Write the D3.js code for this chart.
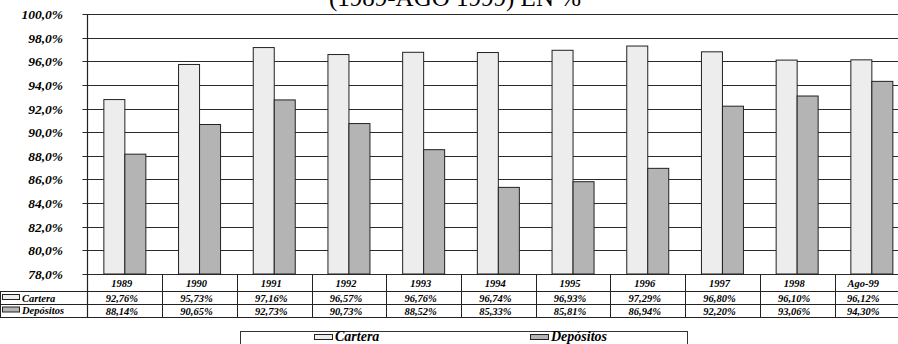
<!DOCTYPE html>
<html>
<head>
<meta charset="utf-8">
<script src="https://cdn.jsdelivr.net/npm/d3@7/dist/d3.min.js"></script>
<style>
  html, body { margin: 0; padding: 0; background: #fff; }
  svg { display: block; }
  text { font-family: "Liberation Serif", "Times New Roman", serif; }
  .lbl { font-weight: bold; font-style: italic; fill: #000; }
</style>
</head>
<body>
<svg id="chart" width="898" height="344"></svg>
<script>
// Categories (years) and the two series, in percent
const categories = ["1989", "1990", "1991", "1992", "1993", "1994", "1995", "1996", "1997", "1998", "Ago-99"];
const seriesNames = ["Cartera", "Depósitos"];
const cartera   = [92.76, 95.73, 97.16, 96.57, 96.76, 96.74, 96.93, 97.29, 96.80, 96.10, 96.12];
const depositos = [88.14, 90.65, 92.73, 90.73, 88.52, 85.33, 85.81, 86.94, 92.20, 93.06, 94.30];
const yTicks = [78, 80, 82, 84, 86, 88, 90, 92, 94, 96, 98, 100];
const title = "(1989-AGO 1999) EN %";

const seriesValues = [cartera, depositos];
const fills = ["#ededed", "#b4b4b4"];

const W = 898, H = 344;
const plotLeft = 87.5, step = 74.7;
const plotTop = 14, plotBottom = 274;

const svg = d3.select("#chart");

const x0 = d3.scaleBand()
  .domain(categories)
  .range([plotLeft, plotLeft + step * categories.length])
  .padding(0);
const x1 = d3.scaleBand()
  .domain(seriesNames)
  .range([0, 42])
  .padding(0);
const y = d3.scaleLinear().domain([78, 100]).range([plotBottom, plotTop]);

const fmt = v => d3.format(".1f")(v).replace(".", ",") + "%";
const fmt2 = v => d3.format(".2f")(v).replace(".", ",") + "%";

// Title (partly above the top edge)
svg.append("text")
  .attr("x", 455).attr("y", 6)
  .attr("text-anchor", "middle")
  .style("font-size", "25px")
  .text(title);

// Horizontal gridlines with outward ticks
svg.append("g").selectAll("line")
  .data(yTicks)
  .join("line")
  .attr("x1", plotLeft - 5).attr("x2", W)
  .attr("y1", d => Math.round(y(d)) + 0.5)
  .attr("y2", d => Math.round(y(d)) + 0.5)
  .attr("stroke", "#2a2a2a").attr("stroke-width", 1.2);

// Y axis labels
svg.append("g").selectAll("text")
  .data(yTicks)
  .join("text")
  .attr("class", "lbl")
  .attr("x", 63)
  .attr("y", d => y(d) + 5)
  .attr("text-anchor", "end")
  .style("font-size", "13.5px")
  .text(d => fmt(d));

// Bars
const groups = svg.append("g").selectAll("g")
  .data(categories)
  .join("g")
  .attr("transform", d => `translate(${x0(d) + x0.bandwidth() / 2 - 21},0)`);

groups.selectAll("rect")
  .data((d, i) => seriesNames.map((s, k) => ({ s, k, v: seriesValues[k][i] })))
  .join("rect")
  .attr("x", d => x1(d.s))
  .attr("y", d => y(d.v))
  .attr("width", x1.bandwidth())
  .attr("height", d => plotBottom - y(d.v))
  .attr("fill", d => fills[d.k])
  .attr("stroke", "#222")
  .attr("stroke-width", 1);

// Y axis line
svg.append("line")
  .attr("x1", plotLeft).attr("x2", plotLeft)
  .attr("y1", plotTop).attr("y2", 317)
  .attr("stroke", "#222").attr("stroke-width", 1.2);

// Data table
const rowLines = [291, 304, 317];
svg.append("g").selectAll("line")
  .data(rowLines)
  .join("line")
  .attr("x1", 0).attr("x2", W)
  .attr("y1", d => d + 0.5).attr("y2", d => d + 0.5)
  .attr("stroke", "#222").attr("stroke-width", 1.1);

svg.append("line")
  .attr("x1", 0.5).attr("x2", 0.5)
  .attr("y1", 291).attr("y2", 317.5)
  .attr("stroke", "#222");

svg.append("g").selectAll("line")
  .data(categories.slice(1))
  .join("line")
  .attr("x1", d => Math.round(x0(d)) + 0.5)
  .attr("x2", d => Math.round(x0(d)) + 0.5)
  .attr("y1", plotBottom).attr("y2", 317.5)
  .attr("stroke", "#222");

const colCenter = d => Math.min(x0(d) + x0.bandwidth() / 2, (x0(d) + W) / 2) - 3;

svg.append("g").selectAll("text")
  .data(categories)
  .join("text")
  .attr("class", "lbl")
  .attr("x", colCenter)
  .attr("y", 287)
  .attr("text-anchor", "middle")
  .style("font-size", "10.5px")
  .text(d => d);

const rowBase = [302, 314.5];
seriesNames.forEach((s, k) => {
  svg.append("g").selectAll("text")
    .data(categories)
    .join("text")
    .attr("class", "lbl")
    .attr("x", colCenter)
    .attr("y", rowBase[k])
    .attr("text-anchor", "middle")
    .style("font-size", "10.5px")
    .text((d, i) => fmt2(seriesValues[k][i]));

  svg.append("rect")
    .attr("x", 2.5).attr("y", rowBase[k] - 7.5)
    .attr("width", 17).attr("height", 5)
    .attr("fill", fills[k]).attr("stroke", "#222");
  svg.append("text")
    .attr("class", "lbl")
    .attr("x", 22).attr("y", rowBase[k] - 0.5)
    .style("font-size", "10.5px")
    .text(s);
});

// Legend
svg.append("rect")
  .attr("x", 240.5).attr("y", 331.5)
  .attr("width", 447).attr("height", 20)
  .attr("fill", "#fff").attr("stroke", "#333");

const legendX = [314, 530];
seriesNames.forEach((s, k) => {
  svg.append("rect")
    .attr("x", legendX[k] + 0.5).attr("y", 334.5)
    .attr("width", 18).attr("height", 5)
    .attr("fill", fills[k]).attr("stroke", "#222");
  svg.append("text")
    .attr("class", "lbl")
    .attr("x", legendX[k] + 21).attr("y", 341)
    .style("font-size", "14px")
    .text(s);
});
</script>
</body>
</html>
